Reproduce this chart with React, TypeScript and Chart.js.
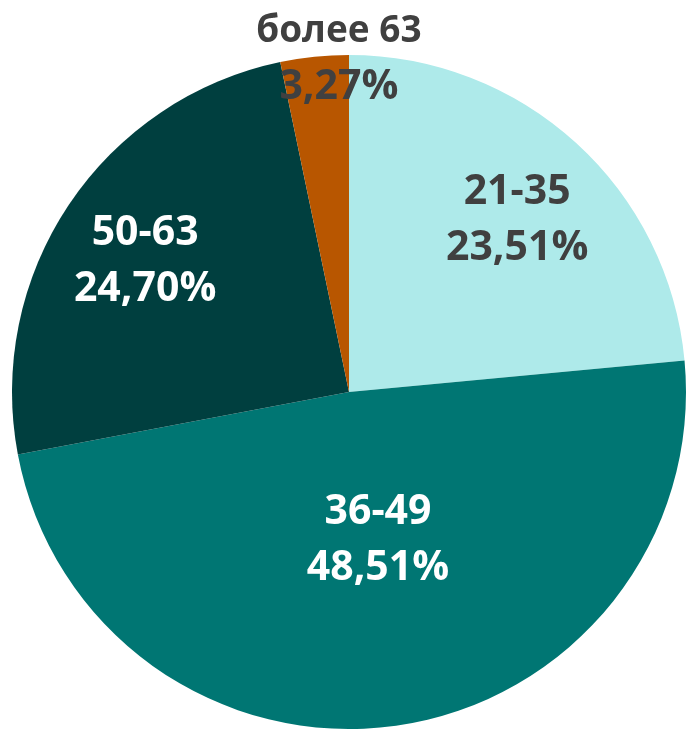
import React, { useEffect, useRef } from "react";
import { Chart, registerables } from "chart.js";

Chart.register(...registerables);

const categories = ["21-35", "36-49", "50-63", "более 63"];
const values = [23.51, 48.51, 24.7, 3.27];
const percentLabels = ["23,51%", "48,51%", "24,70%", "3,27%"];
const colors = ["#AEEAEA", "#007673", "#003F3F", "#B85600"];
const labelColors = ["#404040", "#FFFFFF", "#FFFFFF", "#404040"];
// label anchors in units of radius relative to the pie centre
const labelAnchors: [number, number][] = [
  [0.499, -0.513],
  [0.086, 0.436],
  [-0.605, -0.392],
  [-0.03, -0.99],
];

const labelPlugin = {
  id: "sliceLabels",
  afterDatasetsDraw(chart: any) {
    const meta = chart.getDatasetMeta(0);
    const ctx = chart.ctx;
    ctx.save();
    ctx.textAlign = "center";
    ctx.textBaseline = "middle";
    meta.data.forEach((arc: any, i: number) => {
      const { x, y, outerRadius } = arc.getProps(["x", "y", "outerRadius"], true);
      const cx = x + labelAnchors[i][0] * outerRadius;
      const cy = y + labelAnchors[i][1] * outerRadius;
      ctx.fillStyle = labelColors[i];
      ctx.font = /[а-я]/i.test(categories[i])
        ? "bold 37px 'Open Sans', sans-serif"
        : "bold 41px 'Open Sans', sans-serif";
      ctx.fillText(categories[i], cx, cy - 27);
      ctx.font = "bold 41px 'Open Sans', sans-serif";
      ctx.fillText(percentLabels[i], cx, cy + 29);
    });
    ctx.restore();
  },
};

export default function App() {
  const ref = useRef<HTMLCanvasElement>(null);
  useEffect(() => {
    const chart = new Chart(ref.current!, {
      type: "pie",
      data: {
        labels: categories,
        datasets: [
          {
            data: values,
            backgroundColor: colors,
            borderWidth: 0,
          },
        ],
      },
      options: {
        animation: false,
        responsive: false,
        maintainAspectRatio: false,
        layout: { padding: { top: 55, left: 12, right: 0, bottom: 0 } },
        plugins: {
          legend: { display: false },
          tooltip: { enabled: false },
        },
      },
      plugins: [labelPlugin],
    });
    return () => chart.destroy();
  }, []);
  return (
    <div style={{ position: "fixed", left: 0, top: 0, width: 686, height: 729, background: "#fff" }}>
      <canvas ref={ref} width={686} height={729} style={{ width: 686, height: 729 }} />
    </div>
  );
}
